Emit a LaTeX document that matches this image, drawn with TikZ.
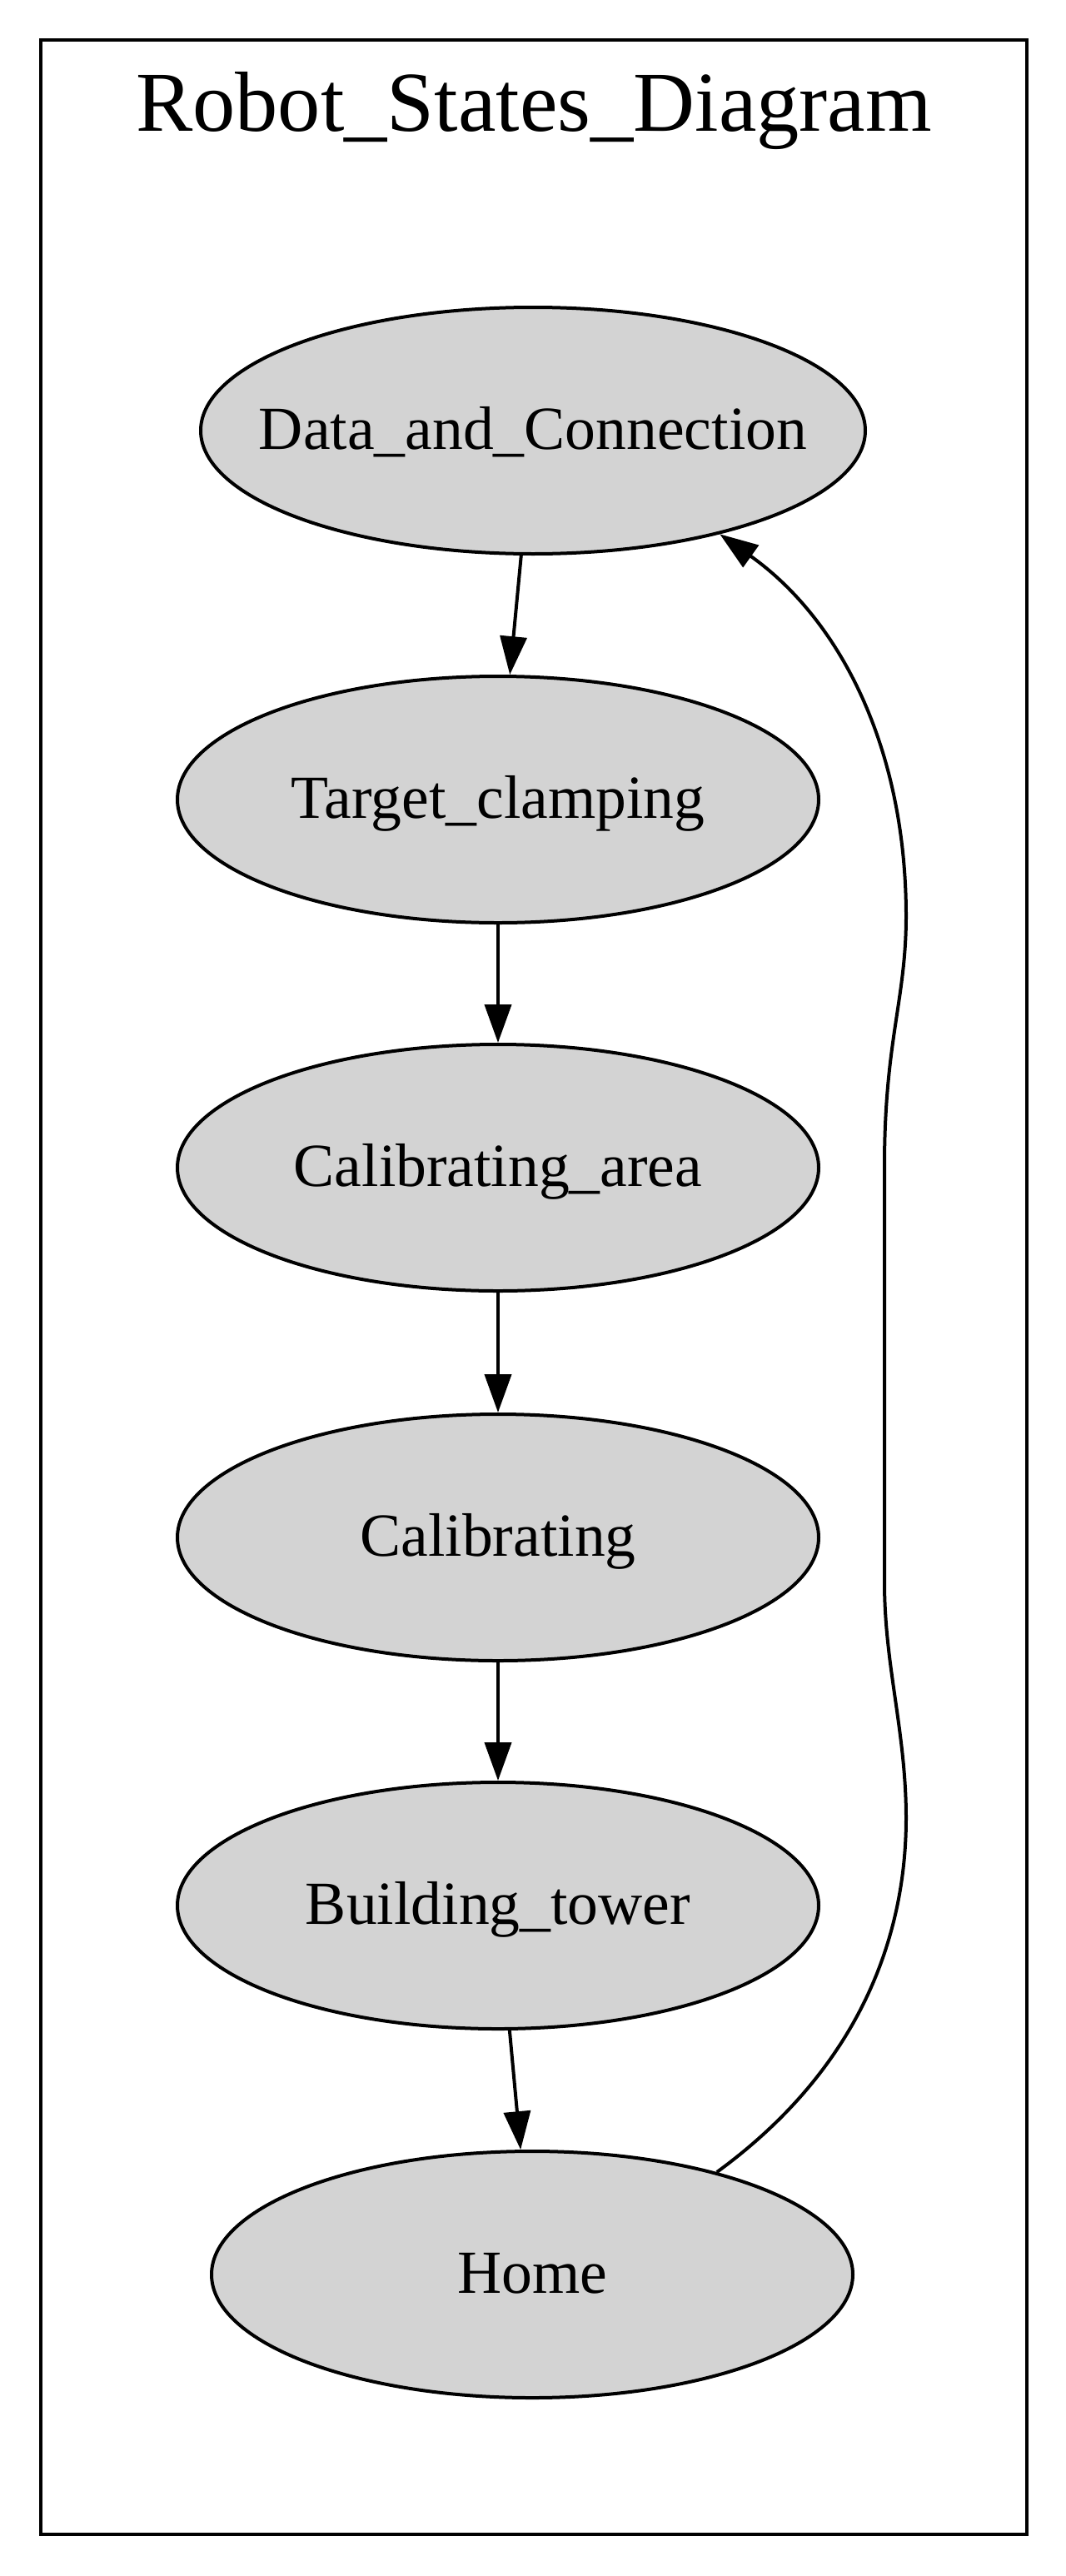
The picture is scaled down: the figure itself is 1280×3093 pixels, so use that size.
\documentclass[tikz,border=0pt]{standalone}
\usepackage{fontspec}
\setmainfont{Liberation Serif}
\usepackage{xcolor}
\usetikzlibrary{arrows.meta,shapes.geometric}

\definecolor{nodegray}{HTML}{D3D3D3}

\tikzset{
  state/.style={ellipse, draw, line width=1pt, fill=nodegray, inner sep=0pt,
    minimum width=192.5pt, minimum height=74pt},
  edge/.style={line width=1pt, -{Triangle[length=11.5pt,width=8pt]}},
  every label/.style={inner sep=0pt, text height=12.9pt, text depth=1.8pt}
}

\begin{document}
\begin{tikzpicture}[x=0.25pt, y=-0.25pt, font=\fontsize{18.4}{22}\selectfont]
  \useasboundingbox (0,0) rectangle (1280,3093);

  % Frame and title
  \draw[line width=0.9pt] (49,48) rectangle (1233,3043);
  \node[anchor=base, font=\fontsize{25.6}{30}\selectfont] (title) at (641,158) {Robot\_States\_Diagram};

  % States
  \node[state, minimum width=199.5pt, label={center:Data\_and\_Connection}] (data) at (640,517) {};
  \node[state, label={center:Target\_clamping}] (clamp) at (598,960) {};
  \node[state, label={center:Calibrating\_area}] (area) at (598,1402) {};
  \node[state, label={center:Calibrating}] (calib) at (598,1846) {};
  \node[state, label={center:Building\_tower}] (tower) at (598,2288) {};
  \node[state, label={center:Home}] (home) at (639,2731) {};

  % Transitions
  \draw[edge] (data) -- (clamp);
  \draw[edge] (clamp) -- (area);
  \draw[edge] (area) -- (calib);
  \draw[edge] (calib) -- (tower);
  \draw[edge] (tower) -- (home);
  \draw[edge] (home.29) .. controls (1050,2470) and (1088,2300) .. (1088,2183)
    .. controls (1088,2080) and (1062,2000) .. (1062,1900) -- (1062,1400)
    .. controls (1062,1250) and (1088,1200) .. (1088,1100)
    .. controls (1088,900) and (1010,745) .. (data.-29);
\end{tikzpicture}
\end{document}
